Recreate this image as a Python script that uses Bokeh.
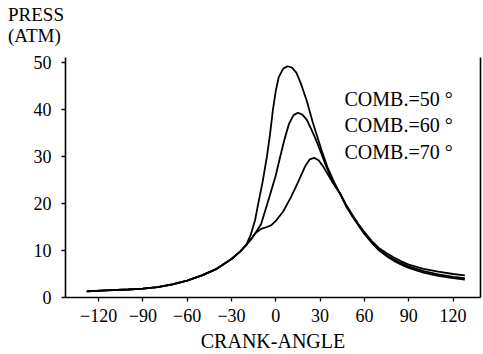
from bokeh.plotting import figure
from bokeh.models import LinearAxis, FixedTicker, Label, Range1d, Div
from bokeh.layouts import column
from bokeh.embed import file_html
from bokeh.resources import INLINE

# ---- data ----
compression_angle = [-128, -115, -100, -90, -80, -70, -60, -50, -40, -30, -24, -20]
compression_press = [1.3, 1.5, 1.7, 1.9, 2.2, 2.8, 3.6, 4.7, 6.1, 8.2, 9.8, 11.2]

comb50_angle = [-17, -14, -12, -9, -6, -4, -2, 0, 2, 5, 8, 11, 14, 17, 21, 25, 28, 31, 35, 40, 44,
                48, 52, 56, 60, 65, 70, 75, 80, 85, 90, 100, 110, 120, 128]
comb50_press = [13.3, 16.5, 19.8, 24.5, 30.0, 34.5, 39.8, 44.0, 46.9, 48.7, 49.2, 48.9, 47.8, 45.5,
                41.8, 37.3, 34.3, 31.3, 27.7, 24.2, 21.8,
                19.2, 17.2, 15.3, 13.5, 11.6, 10.0, 8.8, 7.8, 7.0, 6.3, 5.3, 4.6, 4.1, 3.8]

comb60_angle = [-17, -14, -10, -6, -3, 0, 3, 6, 9, 12, 15, 18, 21, 24, 27, 30, 34, 38, 44,
                48, 52, 56, 60, 65, 70, 75, 80, 85, 90, 100, 110, 120, 128]
comb60_press = [12.3, 13.6, 15.6, 19.7, 22.8, 26.0, 30.0, 33.8, 37.0, 38.8, 39.3, 38.9, 37.8, 35.8,
                33.7, 31.3, 28.0, 25.0, 21.8,
                19.3, 17.3, 15.4, 13.7, 11.8, 10.2, 9.0, 8.1, 7.3, 6.6, 5.6, 4.9, 4.4, 4.1]

comb70_angle = [-17, -14, -10, -6, -3, 0, 5, 10, 15, 20, 23, 26, 29, 32, 36, 40, 44,
                48, 52, 56, 60, 65, 70, 75, 80, 85, 90, 100, 110, 120, 128]
comb70_press = [12.3, 13.6, 14.6, 15.0, 15.4, 16.3, 18.3, 21.2, 24.5, 28.0, 29.4, 29.7, 29.2, 27.9,
                25.8, 23.7, 21.9,
                19.5, 17.5, 15.6, 13.9, 12.0, 10.5, 9.4, 8.5, 7.7, 7.0, 6.1, 5.5, 5.0, 4.7]

series_labels = ["COMB.=50 °", "COMB.=60 °", "COMB.=70 °"]

x_ticks = [-120, -90, -60, -30, 0, 30, 60, 90, 120]
x_tick_labels = ["\u2212120", "\u221290", "\u221260", "\u221230", "0", "30", "60", "90", "120"]
y_ticks = [0, 10, 20, 30, 40, 50]

y_title = "PRESS<br>(ATM)"
x_title = "CRANK-ANGLE"

FONT = "Liberation Serif"

p = figure(width=483, height=304, output_backend="svg", toolbar_location=None,
           title=None, x_range=Range1d(-142.4, 138.6), y_range=Range1d(0, 51.06),
           min_border_left=65, min_border_right=3, min_border_top=7, min_border_bottom=57,
           margin=(0, 0, 0, 0))
p.background_fill_color = "white"
p.border_fill_color = "white"
p.outline_line_color = None
p.grid.visible = False

for ang, prs in [(comb50_angle, comb50_press), (comb60_angle, comb60_press), (comb70_angle, comb70_press)]:
    p.line(compression_angle + ang, compression_press + prs, line_color="black", line_width=1.8)

xa = p.xaxis[0]
xa.ticker = FixedTicker(ticks=x_ticks)
xa.major_label_overrides = {t: l for t, l in zip(x_ticks, x_tick_labels)}
ya = p.yaxis[0]
ya.ticker = FixedTicker(ticks=y_ticks)
for ax in (xa, ya):
    ax.axis_line_width = 1.6
    ax.axis_line_color = "black"
    ax.major_tick_line_color = "black"
    ax.major_tick_line_width = 1.3
    ax.major_tick_out = 4
    ax.major_tick_in = 0
    ax.minor_tick_line_color = None
    ax.major_label_text_font = FONT
    ax.major_label_text_font_size = "18px"
    ax.major_label_text_color = "black"
xa.major_label_standoff = 7
ya.major_label_standoff = 10
xa.axis_label = x_title
xa.axis_label_text_font = FONT
xa.axis_label_text_font_size = "20px"
xa.axis_label_text_font_style = "normal"
xa.axis_label_text_color = "black"
xa.axis_label_standoff = 5

ra = LinearAxis(ticker=FixedTicker(ticks=[]), axis_line_width=1.6, axis_line_color="black",
                major_tick_out=0, major_tick_in=0, minor_tick_line_color=None,
                major_label_standoff=0, major_label_text_font_size="0px")
p.add_layout(ra, "right")

for txt, yy in zip(series_labels, [42.3, 36.6, 30.9]):
    p.add_layout(Label(x=46.5, y=yy, text=txt, text_font=FONT, text_font_size="20px",
                       text_color="black", text_baseline="alphabetic", text_align="left"))

top = Div(text=y_title, width=483, height=50, margin=(0, 0, 0, 0),
          styles={"font-family": FONT, "font-size": "19px", "line-height": "21px",
                  "color": "black", "text-align": "left", "padding-top": "4px",
                  "padding-left": "8px", "box-sizing": "border-box"})

layout = column(top, p, spacing=0, margin=(0, 0, 0, 0))

open("out.html", "w").write(file_html(layout, INLINE))
